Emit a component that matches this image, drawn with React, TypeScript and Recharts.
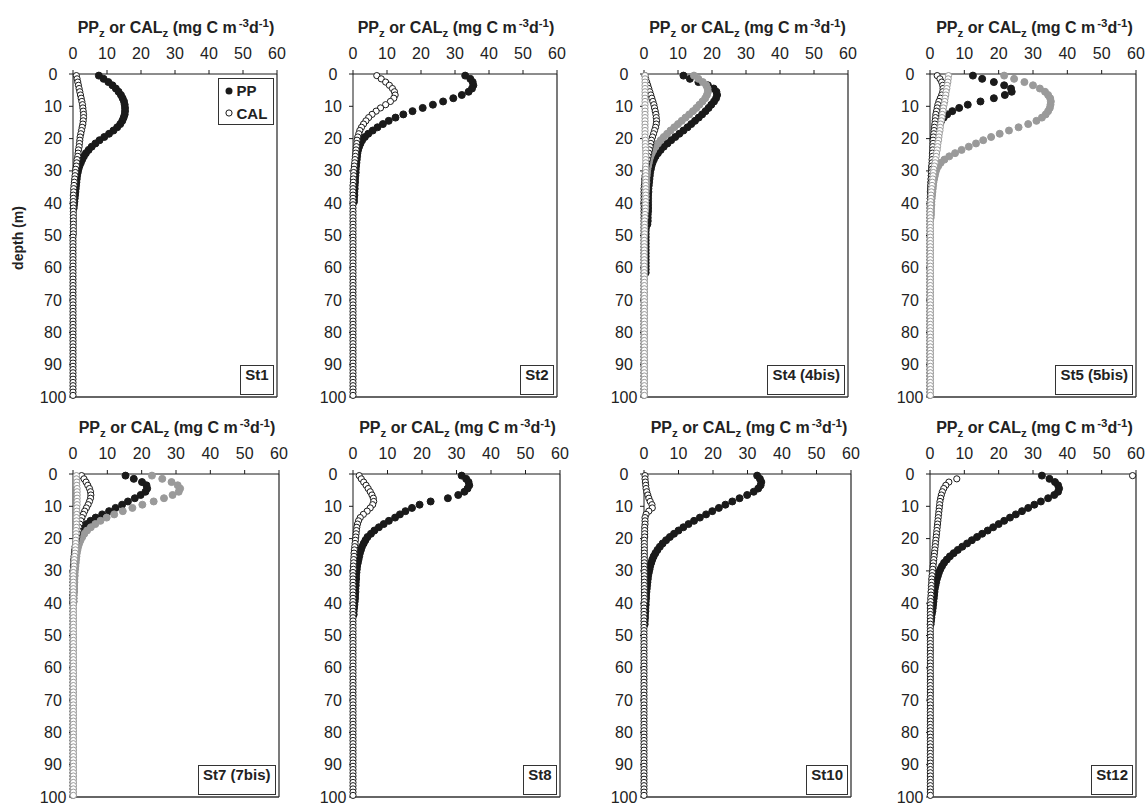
import React from 'react';
import { ScatterChart, Scatter, XAxis, YAxis, ReferenceLine } from 'recharts';

const FONT = '"Liberation Sans", Arial, Helvetica, sans-serif';
const INK = '#1a1a1a';
const GREY = '#9a9a9a';
const FRAME = '#333333';

const rateTicks = [0, 10, 20, 30, 40, 50, 60];
const depthTicks = [0, 10, 20, 30, 40, 50, 60, 70, 80, 90, 100];

// sampling depths (m), one reading per metre
const sampleDepths = [
  0.5, 1.5, 2.5, 3.5, 4.5, 5.5, 6.5, 7.5, 8.5, 9.5,
  10.5, 11.5, 12.5, 13.5, 14.5, 15.5, 16.5, 17.5, 18.5, 19.5,
  20.5, 21.5, 22.5, 23.5, 24.5, 25.5, 26.5, 27.5, 28.5, 29.5,
  30.5, 31.5, 32.5, 33.5, 34.5, 35.5, 36.5, 37.5, 38.5, 39.5,
  40.5, 41.5, 42.5, 43.5, 44.5, 45.5, 46.5, 47.5, 48.5, 49.5,
  50.5, 51.5, 52.5, 53.5, 54.5, 55.5, 56.5, 57.5, 58.5, 59.5,
  60.5, 61.5, 62.5, 63.5, 64.5, 65.5, 66.5, 67.5, 68.5, 69.5,
  70.5, 71.5, 72.5, 73.5, 74.5, 75.5, 76.5, 77.5, 78.5, 79.5,
  80.5, 81.5, 82.5, 83.5, 84.5, 85.5, 86.5, 87.5, 88.5, 89.5,
  90.5, 91.5, 92.5, 93.5, 94.5, 95.5, 96.5, 97.5, 98.5, 99.5,
];

// ---- St1
const st1PP = [
  7.6, 9.0, 10.4, 11.6, 12.6, 13.4, 14.1, 14.6, 15.0, 15.2,
  15.3, 15.3, 15.2, 14.9, 14.5, 13.9, 13.0, 11.9, 10.6, 9.2,
  7.8, 6.6, 5.5, 4.6, 3.8, 3.2, 2.7, 2.3, 1.9, 1.6,
  1.4, 1.2, 1.1, 1.0, 0.9, 0.8, 0.7, 0.6, 0.5, 0.4,
  0.3, 0.2,
];
const st1CAL = [
  1.0, 1.2, 1.4, 1.6, 1.8, 2.0, 2.2, 2.4, 2.6, 2.8,
  2.9, 3.0, 3.1, 3.1, 3.0, 2.9, 2.7, 2.5, 2.3, 2.1,
  2.0, 1.9, 1.8, 1.6, 1.5, 1.4, 1.2, 1.1, 1.0, 0.8,
  0.7, 0.6, 0.5, 0.4, 0.3, 0.2, 0.2, 0.1, 0.1, 0.1,
  0.1, 0.1, 0.1, 0.1, 0.1, 0.1, 0.1, 0.1, 0.1, 0.1,
  0, 0, 0, 0, 0, 0, 0, 0, 0, 0,
  0, 0, 0, 0, 0, 0, 0, 0, 0, 0,
  0, 0, 0, 0, 0, 0, 0, 0, 0, 0,
  0, 0, 0, 0, 0, 0, 0, 0, 0, 0,
  0, 0, 0, 0, 0, 0, 0, 0, 0, 0,
];

// ---- St2
const st2PP = [
  33.0, 34.5, 35.2, 35.4, 35.0, 34.0, 32.0, 29.5, 26.5, 23.5,
  20.5, 17.5, 14.8, 12.5, 10.5, 8.8, 7.2, 5.8, 4.5, 3.5,
  2.7, 2.2, 1.8, 1.5, 1.3, 1.2, 1.1, 1.0, 0.9, 0.8,
  0.8, 0.7, 0.6, 0.6, 0.5, 0.5, 0.4, 0.4, 0.3, 0.3,
];
const st2CAL = [
  7.0, 8.3, 9.6, 10.7, 11.6, 12.2, 12.4, 12.0, 11.0, 9.6,
  8.1, 6.8, 5.6, 4.6, 3.8, 3.1, 2.5, 2.0, 1.7, 1.4,
  1.2, 1.1, 1.0, 0.9, 0.8, 0.7, 0.6, 0.5, 0.4, 0.3,
  0.2, 0.2, 0.1, 0.1, 0, 0, 0, 0, 0, 0,
  0, 0, 0, 0, 0, 0, 0, 0, 0, 0,
  0, 0, 0, 0, 0, 0, 0, 0, 0, 0,
  0, 0, 0, 0, 0, 0, 0, 0, 0, 0,
  0, 0, 0, 0, 0, 0, 0, 0, 0, 0,
  0, 0, 0, 0, 0, 0, 0, 0, 0, 0,
  0, 0, 0, 0, 0, 0, 0, 0, 0, 0,
];

// ---- St4 and 4bis
const st4PP = [
  11.6, 13.5, 16.0, 18.8, 20.5, 21.3, 21.5, 21.2, 20.6, 19.8,
  19.0, 18.1, 17.1, 16.1, 15.0, 13.9, 12.8, 11.6, 10.4, 9.2,
  8.0, 6.9, 5.8, 4.9, 4.1, 3.4, 2.9, 2.5, 2.2, 2.0,
  1.8, 1.7, 1.6, 1.5, 1.4, 1.3, 1.3, 1.2, 1.2, 1.2,
  1.2, 1.2, 1.2, 1.1, 1.1, 1.1, 1.0, 0.6, 0.5, 0.5,
  0.5, 0.5, 0.5, 0.5, 0.5, 0.5, 0.5, 0.5, 0.5, 0.5,
  0.5, 0.5,
];
const st4bisPP = [
  14.7, 16.0, 17.3, 18.3, 18.7, 18.8, 18.5, 18.0, 17.2, 16.3,
  15.4, 14.4, 13.3, 12.2, 11.1, 10.0, 8.9, 7.8, 6.8, 5.8,
  4.9, 4.1, 3.4, 2.8, 2.3, 1.9, 1.6, 1.4, 1.2, 1.0,
  0.9, 0.8, 0.7, 0.7, 0.6, 0.6, 0.5, 0.5, 0.5, 0.4,
  0.4, 0.4,
];
const st4CAL = [
  0.3, 0.5, 0.8, 1.1, 1.4, 1.7, 2.0, 2.3, 2.6, 2.9,
  3.1, 3.3, 3.5, 3.6, 3.7, 3.6, 3.4, 3.1, 2.8, 2.5,
  2.2, 2.0, 1.8, 1.6, 1.4, 1.2, 1.0, 0.8, 0.6, 0.5,
  0.4, 0.3, 0.2, 0.2, 0.1, 0, 0, 0, 0, 0,
  0, 0, 0, 0, 0, 0, 0, 0, 0, 0,
  0, 0, 0, 0, 0, 0, 0, 0, 0, 0,
  0, 0, 0, 0, 0, 0, 0, 0, 0, 0,
  0, 0, 0, 0, 0, 0, 0, 0, 0, 0,
  0, 0, 0, 0, 0, 0, 0, 0, 0, 0,
  0, 0, 0, 0, 0, 0, 0, 0, 0, 0,
];
const st4bisCAL = [
  0.3, 0.3, 0.3, 0.3, 0.3, 0.3, 0.3, 0.3, 0.3, 0.3,
  0.3, 0.3, 0.3, 0.3, 0.3, 0.3, 0.3, 0.3, 0.3, 0.3,
  0.4, 0.4, 0.4, 0.5, 0.5, 0.5, 0.5, 0.5, 0.5, 0.5,
  0.5, 0.5, 0.5, 0.5, 0.5, 0.5, 0.5, 0.5, 0.5, 0.5,
  0.4, 0.4, 0.4, 0.3, 0.3, 0.2, 0.2, 0.2, 0.2, 0.2,
  0.1, 0.1, 0.1, 0.1, 0.1, 0.1, 0.1, 0.1, 0.1, 0.1,
  0.1, 0.1, 0.1, 0.1, 0.1, 0.1, 0.1, 0.1, 0.1, 0.1,
  0.1, 0.1, 0.1, 0.1, 0.1, 0.1, 0.1, 0.1, 0.1, 0.1,
  0.1, 0.1, 0.1, 0.1, 0.1, 0.1, 0.1, 0.1, 0.1, 0.1,
  0.1, 0.1, 0.1, 0.1, 0.1, 0.1, 0.1, 0.1, 0.1, 0.1,
];

// ---- St5 and 5bis
const st5PP = [
  12.5, 15.2, 18.6, 21.6, 23.6, 23.8, 21.8, 18.6, 14.7, 11.0,
  8.5, 6.5, 5.0, 4.0, 3.3, 2.8, 2.4, 2.1, 1.9, 1.7,
  1.5, 1.4, 1.3, 1.2, 1.1, 1.0, 0.9, 0.8, 0.7, 0.6,
  0.6, 0.5, 0.5, 0.4, 0.4, 0.3, 0.3, 0.3, 0.2, 0.2,
];
const st5bisPP = [
  21.6, 24.5, 27.5, 30.0, 32.0, 33.5, 34.4, 35.0, 35.2, 35.1,
  34.9, 34.4, 33.7, 32.6, 31.0, 28.6, 25.8, 23.0, 20.3, 17.8,
  15.5, 13.4, 11.3, 9.2, 7.3, 5.6, 4.2, 3.1, 2.4, 1.9,
  1.6, 1.4, 1.2, 1.0, 0.9, 0.8, 0.7, 0.6, 0.5, 0.4,
  0.4, 0.3, 0.3, 0.3, 0.2,
];
const st5CAL = [
  2.1, 2.9, 3.4, 3.7, 3.8, 3.7, 3.4, 3.0, 2.6, 2.3,
  2.1, 1.9, 1.7, 1.6, 1.5, 1.4, 1.3, 1.2, 1.1, 1.0,
  0.9, 0.9, 0.8, 0.8, 0.7, 0.7, 0.6, 0.6, 0.5, 0.5,
  0.4, 0.4, 0.3, 0.3, 0.2, 0.2, 0.1, 0.1, 0.1, 0.1,
  0, 0, 0, 0, 0, 0, 0, 0, 0, 0,
  0, 0, 0, 0, 0, 0, 0, 0, 0, 0,
  0, 0, 0, 0, 0, 0, 0, 0, 0, 0,
  0, 0, 0, 0, 0, 0, 0, 0, 0, 0,
  0, 0, 0, 0, 0, 0, 0, 0, 0, 0,
  0, 0, 0, 0, 0, 0, 0, 0, 0, 0,
];
const st5bisCAL = [
  5.4, 5.3, 5.2, 5.0, 4.9, 4.7, 4.6, 4.4, 4.3, 4.1,
  3.9, 3.8, 3.6, 3.5, 3.3, 3.1, 3.0, 2.9, 2.7, 2.6,
  2.5, 2.3, 2.2, 2.1, 1.9, 1.8, 1.6, 1.5, 1.3, 1.1,
  1.0, 0.9, 0.8, 0.7, 0.6, 0.5, 0.4, 0.3, 0.3, 0.2,
  0.2, 0.2, 0.1, 0.1, 0.1, 0.1, 0.1, 0.1, 0.1, 0.1,
  0.1, 0.1, 0.1, 0.1, 0.1, 0.1, 0.1, 0.1, 0.1, 0.1,
  0.1, 0.1, 0.1, 0.1, 0.1, 0.1, 0.1, 0.1, 0.1, 0.1,
  0.1, 0.1, 0.1, 0.1, 0.1, 0.1, 0.1, 0.1, 0.1, 0.1,
  0.1, 0.1, 0.1, 0.1, 0.1, 0.1, 0.1, 0.1, 0.1, 0.1,
  0.1, 0.1, 0.1, 0.1, 0.1, 0.1, 0.1, 0.1, 0.1, 0.1,
];

// ---- St7 and 7bis
const st7PP = [
  15.3, 17.7, 20.1, 21.4, 21.6, 21.1, 19.7, 18.0, 16.0, 14.3,
  12.4, 10.5, 8.5, 6.6, 5.1, 4.0, 3.0, 2.2, 1.7, 1.4,
  1.2, 1.0, 0.9, 0.8, 0.7, 0.6, 0.5, 0.5, 0.4, 0.4,
  0.3, 0.3, 0.3, 0.2, 0.2, 0.2, 0.2, 0.1, 0.1, 0.1,
];
const st7bisPP = [
  23.0, 26.0, 28.7, 30.5, 31.2, 30.8, 29.0, 26.5, 23.5, 20.2,
  17.3, 14.5, 12.0, 9.8, 8.0, 6.5, 5.2, 4.1, 3.3, 2.7,
  2.2, 1.8, 1.5, 1.3, 1.1, 1.0, 0.9, 0.8, 0.7, 0.6,
  0.5, 0.5, 0.4, 0.4, 0.3, 0.3, 0.3, 0.2, 0.2, 0.2,
];
const st7CAL = [
  2.5, 3.2, 3.8, 4.3, 4.8, 5.1, 5.2, 5.1, 4.8, 4.4,
  3.9, 3.4, 3.0, 2.6, 2.3, 2.0, 1.7, 1.5, 1.3, 1.1,
  0.9, 0.8, 0.6, 0.5, 0.4, 0.3, 0.2, 0.2, 0.1, 0.1,
  0, 0, 0, 0, 0, 0, 0, 0, 0, 0,
  0, 0, 0, 0, 0, 0, 0, 0, 0, 0,
  0, 0, 0, 0, 0, 0, 0, 0, 0, 0,
  0, 0, 0, 0, 0, 0, 0, 0, 0, 0,
  0, 0, 0, 0, 0, 0, 0, 0, 0, 0,
  0, 0, 0, 0, 0, 0, 0, 0, 0, 0,
  0, 0, 0, 0, 0, 0, 0, 0, 0, 0,
];
const st7bisCAL = [
  1.0, 1.0, 1.1, 1.1, 1.2, 1.2, 1.2, 1.2, 1.2, 1.2,
  1.1, 1.1, 1.1, 1.0, 1.0, 1.0, 1.0, 0.9, 0.9, 0.9,
  0.8, 0.8, 0.7, 0.7, 0.6, 0.5, 0.4, 0.3, 0.3, 0.2,
  0.1, 0.1, 0.1, 0.1, 0.1, 0.1, 0.1, 0.1, 0.1, 0.1,
  0.1, 0.1, 0.1, 0.1, 0.1, 0.1, 0.1, 0.1, 0.1, 0.1,
  0.1, 0.1, 0.1, 0.1, 0.1, 0.1, 0.1, 0.1, 0.1, 0.1,
  0.1, 0.1, 0.1, 0.1, 0.1, 0.1, 0.1, 0.1, 0.1, 0.1,
  0.1, 0.1, 0.1, 0.1, 0.1, 0.1, 0.1, 0.1, 0.1, 0.1,
  0.1, 0.1, 0.1, 0.1, 0.1, 0.1, 0.1, 0.1, 0.1, 0.1,
  0.1, 0.1, 0.1, 0.1, 0.1, 0.1, 0.1, 0.1, 0.1, 0.1,
];

// ---- St8
const st8PP = [
  31.5, 32.8, 33.5, 33.7, 33.2, 32.3, 30.5, 27.5, 22.5, 19.3,
  17.1, 15.2, 13.6, 12.2, 10.4, 8.9, 7.5, 6.2, 5.2, 4.2,
  3.6, 3.1, 2.6, 2.3, 2.0, 1.8, 1.6, 1.4, 1.2, 1.1,
  1.0, 0.9, 0.9, 0.8, 0.8, 0.7, 0.7, 0.6, 0.6, 0.5,
  0.4, 0.3, 0.2, 0.2,
];
const st8CAL = [
  1.8, 2.4, 3.1, 3.8, 4.4, 5.0, 5.5, 5.9, 6.0, 5.7,
  5.0, 4.1, 3.0, 2.1, 1.6, 1.3, 1.1, 1.0, 0.9, 0.8,
  0.7, 0.6, 0.5, 0.4, 0.3, 0.3, 0.2, 0.2, 0.1, 0.1,
  0, 0, 0, 0, 0, 0, 0, 0, 0, 0,
  0, 0, 0, 0, 0, 0, 0, 0, 0, 0,
  0, 0, 0, 0, 0, 0, 0, 0, 0, 0,
  0, 0, 0, 0, 0, 0, 0, 0, 0, 0,
  0, 0, 0, 0, 0, 0, 0, 0, 0, 0,
  0, 0, 0, 0, 0, 0, 0, 0, 0, 0,
  0, 0, 0, 0, 0, 0, 0, 0, 0, 0,
];

// ---- St10
const st10PP = [
  32.8, 33.6, 34.0, 33.8, 33.1, 31.8, 29.9, 27.7, 25.6, 23.6,
  21.7, 19.8, 18.0, 16.2, 14.5, 12.9, 11.4, 10.0, 8.7, 7.5,
  6.4, 5.4, 4.6, 3.9, 3.3, 2.8, 2.4, 2.1, 1.8, 1.6,
  1.4, 1.2, 1.1, 1.0, 0.9, 0.8, 0.7, 0.6, 0.6, 0.5,
  0.5, 0.4, 0.4, 0.3, 0.3, 0.2, 0.2,
];
const st10CAL = [
  0.3, 0.3, 0.4, 0.5, 0.6, 0.8, 1.1, 1.4, 1.8, 2.3,
  2.4, 1.4, 0.6, 0.3, 0.3, 0.3, 0.2, 0.2, 0.2, 0.2,
  0.1, 0.1, 0.1, 0.1, 0.1, 0.1, 0.1, 0.1, 0.1, 0.1,
  0.1, 0.1, 0.1, 0.1, 0.1, 0.1, 0.1, 0.1, 0.1, 0.1,
  0, 0, 0, 0, 0, 0, 0, 0, 0, 0,
  0, 0, 0, 0, 0, 0, 0, 0, 0, 0,
  0, 0, 0, 0, 0, 0, 0, 0, 0, 0,
  0, 0, 0, 0, 0, 0, 0, 0, 0, 0,
  0, 0, 0, 0, 0, 0, 0, 0, 0, 0,
  0, 0, 0, 0, 0, 0, 0, 0, 0, 0,
];

// ---- St12
const st12PP = [
  32.6, 34.8, 36.4, 37.3, 37.6, 37.3, 36.2, 34.4, 32.3, 30.4,
  28.6, 26.8, 25.0, 23.3, 21.6, 20.0, 18.4, 16.8, 15.2, 13.7,
  12.2, 10.8, 9.4, 8.1, 6.9, 5.8, 4.9, 4.1, 3.5, 3.0,
  2.6, 2.3, 2.0, 1.8, 1.6, 1.4, 1.3, 1.2, 1.1, 1.0,
  0.9, 0.8, 0.7, 0.5, 0.4, 0.3, 0.2,
];
const st12CAL = [
  59.0, 7.8, 5.5, 4.6, 4.0, 3.6, 3.3, 3.1, 2.9, 2.8,
  2.7, 2.6, 2.5, 2.4, 2.3, 2.2, 2.1, 2.0, 1.9, 1.8,
  1.7, 1.6, 1.5, 1.4, 1.3, 1.2, 1.1, 1.0, 0.9, 0.8,
  0.7, 0.6, 0.5, 0.5, 0.4, 0.4, 0.3, 0.3, 0.2, 0.2,
  0.1, 0.1, 0.1, 0.1, 0.1, 0.1, 0.1, 0.1, 0.1, 0.1,
  0.1, 0.1, 0.1, 0.1, 0.1, 0.1, 0.1, 0.1, 0.1, 0.1,
  0.1, 0.1, 0.1, 0.1, 0.1, 0.1, 0.1, 0.1, 0.1, 0.1,
  0.1, 0.1, 0.1, 0.1, 0.1, 0.1, 0.1, 0.1, 0.1, 0.1,
  0.1, 0.1, 0.1, 0.1, 0.1, 0.1, 0.1, 0.1, 0.1, 0.1,
  0.1, 0.1, 0.1, 0.1, 0.1, 0.1, 0.1, 0.1, 0.1, 0.1,
];

type Mark = 'pp' | 'ppBis' | 'cal' | 'calBis';
type Profile = { values: number[]; mark: Mark };
type Station = {
  label: string;
  left: number;
  top: number;
  width: number;
  profiles: Profile[];
  legend?: boolean;
  depthTitle?: boolean;
};

const PLOT_H = 323;
const AXIS_W = 40;
const AXIS_H = 30;

const stations: Station[] = [
  { label: 'St1', left: 72.5, top: 74, width: 204, legend: true, depthTitle: true,
    profiles: [{ values: st1PP, mark: 'pp' }, { values: st1CAL, mark: 'cal' }] },
  { label: 'St2', left: 352.5, top: 74, width: 204,
    profiles: [{ values: st2PP, mark: 'pp' }, { values: st2CAL, mark: 'cal' }] },
  { label: 'St4 (4bis)', left: 644, top: 74, width: 204,
    profiles: [
      { values: st4PP, mark: 'pp' }, { values: st4bisPP, mark: 'ppBis' },
      { values: st4CAL, mark: 'cal' }, { values: st4bisCAL, mark: 'calBis' },
    ] },
  { label: 'St5 (5bis)', left: 930, top: 74, width: 206,
    profiles: [
      { values: st5PP, mark: 'pp' }, { values: st5bisPP, mark: 'ppBis' },
      { values: st5CAL, mark: 'cal' }, { values: st5bisCAL, mark: 'calBis' },
    ] },
  { label: 'St7 (7bis)', left: 72.5, top: 474, width: 206,
    profiles: [
      { values: st7PP, mark: 'pp' }, { values: st7bisPP, mark: 'ppBis' },
      { values: st7CAL, mark: 'cal' }, { values: st7bisCAL, mark: 'calBis' },
    ] },
  { label: 'St8', left: 352.5, top: 474, width: 207,
    profiles: [{ values: st8PP, mark: 'pp' }, { values: st8CAL, mark: 'cal' }] },
  { label: 'St10', left: 644, top: 474, width: 207,
    profiles: [{ values: st10PP, mark: 'pp' }, { values: st10CAL, mark: 'cal' }] },
  { label: 'St12', left: 930, top: 474, width: 206,
    profiles: [{ values: st12PP, mark: 'pp' }, { values: st12CAL, mark: 'cal' }] },
];

const markStyle: Record<Mark, { r: number; fill: string; stroke: string }> = {
  pp: { r: 3.5, fill: INK, stroke: INK },
  ppBis: { r: 3.5, fill: GREY, stroke: GREY },
  cal: { r: 3.1, fill: '#ffffff', stroke: INK },
  calBis: { r: 3.1, fill: '#ffffff', stroke: GREY },
};

const toPoints = (values: number[]) => values.map((v, i) => ({ rate: v, depth: sampleDepths[i] }));

const renderMark = (mark: Mark) => (props: any) => {
  const s = markStyle[mark];
  return <circle cx={props.cx} cy={props.cy} r={s.r} fill={s.fill} stroke={s.stroke} strokeWidth={1} />;
};

const DepthTick = (props: any) => (
  <text x={props.x - 14} y={props.y} dy={5.5} textAnchor="middle" fill="#222" fontSize={16} fontFamily={FONT}>
    {props.payload.value}
  </text>
);

const small: React.CSSProperties = { fontSize: '0.72em', position: 'relative' };

function Title({ left, top, width }: { left: number; top: number; width: number }) {
  return (
    <div
      style={{
        position: 'absolute', left: left + 1.5, top, width, textAlign: 'center',
        font: `bold 16px ${FONT}`, color: '#222', whiteSpace: 'nowrap', lineHeight: '18px',
      }}
    >
      PP<span style={{ ...small, top: 4 }}>z</span> or CAL<span style={{ ...small, top: 4 }}>z</span> (mg C m
      <span style={{ ...small, top: -6, marginLeft: 2 }}>-3</span>d
      <span style={{ ...small, top: -6 }}>-1</span>)
    </div>
  );
}

function Legend() {
  return (
    <div
      style={{
        position: 'absolute', right: 3, top: 4, width: 54, height: 45, border: `1px solid ${FRAME}`,
        background: '#fff', font: `bold 15px ${FONT}`, color: '#222',
      }}
    >
      <div style={{ display: 'flex', alignItems: 'center', height: 23, paddingLeft: 4 }}>
        <svg width={14} height={10}><circle cx={6} cy={5} r={3.5} fill={INK} /></svg>
        <span>PP</span>
      </div>
      <div style={{ display: 'flex', alignItems: 'center', height: 22, paddingLeft: 4 }}>
        <svg width={14} height={10}><circle cx={6} cy={5} r={3.1} fill="#fff" stroke={INK} /></svg>
        <span>CAL</span>
      </div>
    </div>
  );
}

function Panel({ st }: { st: Station }) {
  return (
    <>
      <Title left={st.left} top={st.top - 55} width={st.width} />
      <div style={{ position: 'absolute', left: st.left - AXIS_W, top: st.top - AXIS_H }}>
        <ScatterChart
          width={st.width + AXIS_W + 12}
          height={PLOT_H + AXIS_H + 12}
          margin={{ top: 0, right: 12, bottom: 12, left: 0 }}
        >
          <XAxis
            type="number"
            dataKey="rate"
            orientation="top"
            domain={[0, 60]}
            ticks={rateTicks}
            interval={0}
            height={AXIS_H}
            tickSize={4}
            tickMargin={11}
            axisLine={{ stroke: INK }}
            tickLine={{ stroke: INK }}
            tick={{ fill: '#222', fontSize: 16, fontFamily: FONT }}
          />
          <YAxis
            type="number"
            dataKey="depth"
            domain={[0, 100]}
            reversed
            ticks={depthTicks}
            interval={0}
            width={AXIS_W}
            tickSize={4}
            tickMargin={2}
            axisLine={{ stroke: INK }}
            tickLine={{ stroke: INK }}
            tick={DepthTick}
          />
          <ReferenceLine x={60} stroke={FRAME} strokeWidth={1.3} />
          <ReferenceLine y={100} stroke={FRAME} strokeWidth={1.3} />
          {st.profiles.map((p, i) => (
            <Scatter
              key={i}
              data={toPoints(p.values)}
              shape={renderMark(p.mark)}
              isAnimationActive={false}
            />
          ))}
        </ScatterChart>
      </div>
      <div style={{ position: 'absolute', left: st.left, top: st.top, width: st.width, height: PLOT_H, pointerEvents: 'none' }}>
        {st.legend && <Legend />}
        <div
          style={{
            position: 'absolute', right: 3, bottom: 2, height: 28, lineHeight: '28px', padding: '0 4px',
            border: `1px solid ${FRAME}`, background: '#fff', font: `bold 15px ${FONT}`, color: '#222',
            whiteSpace: 'nowrap',
          }}
        >
          {st.label}
        </div>
      </div>
      {st.depthTitle && (
        <div
          style={{
            position: 'absolute', left: 18, top: 238, transform: 'translate(-50%, -50%) rotate(-90deg)',
            font: `bold 14px ${FONT}`, color: '#222', whiteSpace: 'nowrap',
          }}
        >
          depth (m)
        </div>
      )}
    </>
  );
}

export default function App() {
  return (
    <div style={{ position: 'absolute', left: 0, top: 0, width: 1148, height: 805, background: '#fff', overflow: 'hidden' }}>
      {stations.map((st) => (
        <Panel key={st.label} st={st} />
      ))}
    </div>
  );
}
